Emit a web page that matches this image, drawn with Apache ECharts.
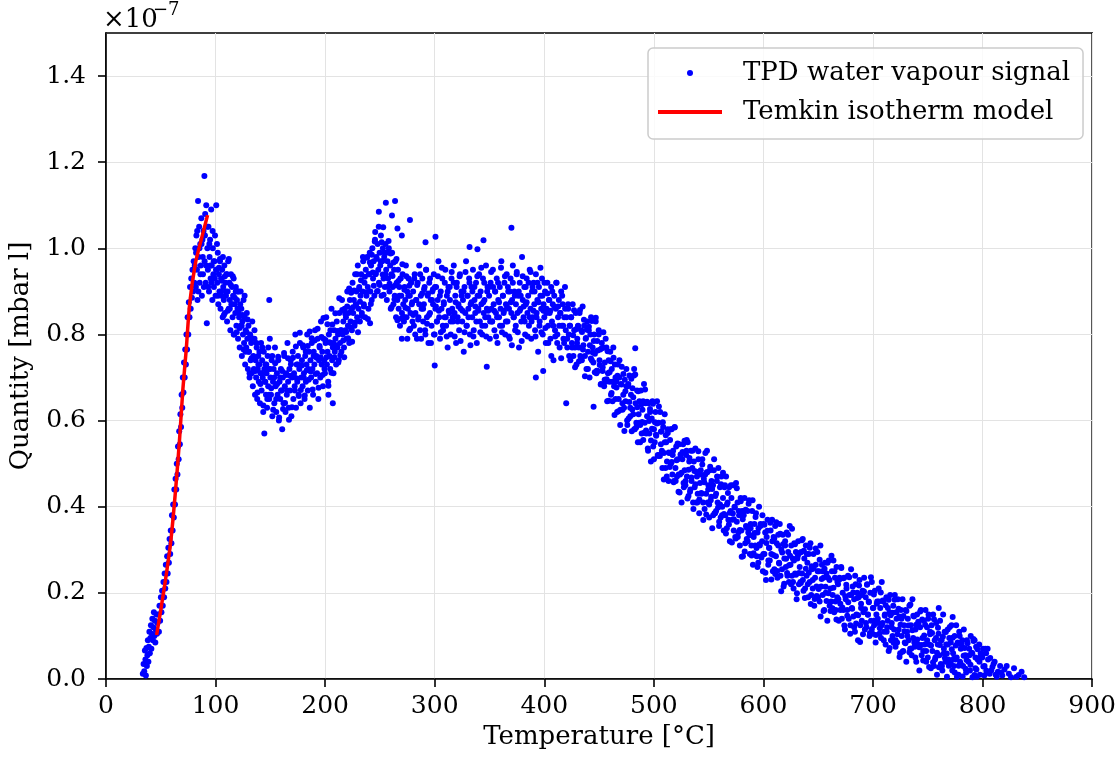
<!DOCTYPE html>
<html>
<head>
<meta charset="utf-8">
<script src="https://cdn.jsdelivr.net/npm/echarts@6/dist/echarts.min.js"></script>
<style>
html,body{margin:0;padding:0;background:#fff;}
#chart{width:1119px;height:765px;}
</style>
</head>
<body>
<div id="chart"></div>
<script>
// Values of Quantity are in units of 1e-7 mbar l (axis offset text "×10^-7")
var xTicks = [0,100,200,300,400,500,600,700,800,900];
var yTicks = [0,0.2,0.4,0.6,0.8,1.0,1.2,1.4];

var riseData = [[33.6,0.012],[34.3,0.035],[34.9,0.018],[35.5,0.066],[36.0,0.045],[36.4,0.008],[36.9,0.072],[37.3,0.03],[37.8,0.055],[38.2,0.09],[38.7,0.04],[39.1,0.075],[39.6,0.11],[40.0,0.06],[40.5,0.095],[41.0,0.125],[41.4,0.07],[41.9,0.105],[42.3,0.14],[42.8,0.09],[43.2,0.12],[43.7,0.155],[44.1,0.1],[44.6,0.135],[45.0,0.085],[45.5,0.115],[46.0,0.15],[46.5,0.105],[47.0,0.13],
[47.5,0.15],[48.3,0.11],[48.8,0.17],[49.4,0.135],[50.1,0.19],[50.6,0.155],[51.2,0.205],[51.8,0.17],[52.4,0.225],[53.0,0.19],[53.5,0.245],[54.1,0.21],[54.6,0.265],[55.2,0.225],[55.8,0.285],[56.3,0.245],[56.9,0.305],[57.4,0.27],[58.0,0.325],[58.6,0.29],[59.1,0.345],[59.7,0.315],[60.2,0.38],[60.8,0.345],[61.3,0.405],[61.9,0.375],[62.4,0.44],[63.0,0.405],[63.5,0.465],[64.1,0.44],[64.6,0.5],[65.2,0.475],[65.7,0.54],[66.3,0.51],[66.8,0.575],[67.4,0.545],[67.9,0.615],[68.5,0.585],[69.0,0.66],[69.6,0.63],[70.1,0.7],[70.7,0.665],[71.2,0.735],[71.8,0.7],[72.3,0.765],[72.9,0.73],[73.4,0.8],[74.0,0.765],[74.5,0.84],[75.1,0.8],[75.6,0.875],[76.2,0.84],[76.7,0.91],[77.3,0.86],[77.8,0.93],[78.4,0.885],[78.9,0.95],[79.5,0.9],[80.0,0.97],[80.6,0.92]];

var peakData = [[81,0.96],[81.5,1.0],[82,0.91],[82.2,0.99],[82.5,1.03],[83,0.95],[83.2,1.04],[83.5,0.88],[84,1.11],[84.3,0.9],[84.5,0.98],[85,1.05],[85.3,1.0],[85.5,0.92],[86,1.01],[86.2,0.94],[86.5,0.96],[87,1.07],[87.2,1.01],[87.5,0.89],[88,1.02],[88.3,0.98],[88.5,0.94],[89,1.04],[89.3,0.91],[89.8,1.168],[90,0.97],[90.3,1.03],[90.5,1.08],[91,0.92],[91.3,0.96],[91.5,1.1],[92,0.826],[92.3,1.05],[92.5,1.0],[93,0.95],[93.3,0.91],[93.5,1.05],[94,0.9],[94.3,1.01],[94.5,0.98],[95,1.02],[95.2,0.96],[95.5,0.93],[96,1.09],[96.3,0.92],[96.5,0.96],[97,0.88],[97.3,1.04],[97.5,1.0],[98,0.94],[98.3,0.97],[98.5,0.91],[99,0.97],[99.3,0.93],[99.5,1.03],[100,0.89],[100.6,1.1],[101,0.95],[101.5,0.92],[102,0.99],[102.5,0.87],[103,0.94],[103.5,0.9],[104,0.97],[104.5,0.86],[105,0.93],[105.5,0.89]];

var declineData = [[106,0.95],[106.5,0.84],[107,0.91],[107.5,0.88],[108,0.96],[108.5,0.85],[109,0.92],[109.5,0.89],[110,0.94],[110.5,0.83],[111,0.9],[111.5,0.97],[112,0.86],[112.5,0.92],[113,0.88],[113.5,0.81],[114,0.94],[114.5,0.87],[115,0.91],[115.5,0.84],[116,0.89],[116.5,0.93],[117,0.8],[117.5,0.87],[118,0.85],[118.5,0.91],[119,0.82],[119.5,0.88],[120,0.86],[120.5,0.79],[121,0.9],[121.5,0.84],[122,0.77],[122.5,0.87],[123,0.82],[123.5,0.86],[124,0.75],[124.5,0.83],[125,0.8],[125.5,0.88],[126,0.78],[126.5,0.84],[127,0.73],[127.5,0.81],[128,0.77],[128.5,0.85],[129,0.79],[129.5,0.72],[130,0.82],[130.5,0.76],[131,0.7],[131.5,0.8],[132,0.74],[132.5,0.78],[133,0.71],[133.5,0.83],[134,0.68],[134.5,0.75],[135,0.72],[135.5,0.79],[136,0.66],[136.5,0.74],[137,0.7],[137.5,0.77],[138,0.65],[138.5,0.72],[139,0.75],[139.5,0.69],[140,0.73],[140.5,0.64],[141,0.71],[141.5,0.78],[142,0.67],[142.5,0.74],[143,0.7],[143.5,0.62],[144,0.76],[144.5,0.57],[145,0.69],[145.5,0.73],[146,0.66],[146.5,0.71],[147,0.63],[147.5,0.75],[148,0.68],[148.5,0.72],[149,0.65],[149,0.88],[149.5,0.79],[150,0.7]];

var declineFill = [[100.4,0.95],[101.3,1.01],[102.2,0.89],[103.1,0.955],[104.0,0.975],[104.9,0.9],[105.8,0.925],[106.7,0.98],[107.6,0.845],[108.5,0.935],[109.4,0.9],[110.3,0.94],[111.2,0.855],[112.1,0.975],[113.0,0.86],[113.9,0.915],[114.8,0.87],[115.7,0.935],[116.6,0.8],[117.5,0.885],[118.4,0.9],[119.3,0.805],[120.2,0.9],[121.1,0.85],[122.0,0.815],[122.9,0.9],[123.8,0.82],[124.7,0.845],[125.6,0.765],[126.5,0.89],[127.4,0.76],[128.3,0.805],[129.2,0.835],[130.1,0.76],[131.0,0.71],[131.9,0.795],[132.8,0.745],[133.7,0.79],[134.6,0.715],[135.5,0.81],[136.4,0.715],[137.3,0.78],[138.2,0.665],[139.1,0.73],[140.0,0.76],[140.9,0.685],[141.8,0.71],[142.7,0.77],[143.6,0.635],[144.5,0.72],[145.4,0.69],[146.3,0.73],[147.2,0.65],[148.1,0.77],[149.0,0.66],[149.9,0.72]];

var valleyData = [[150.6,0.66],[151.2,0.74],[151.8,0.61],[152.4,0.69],[153,0.72],[153.6,0.64],[154.2,0.77],[154.8,0.68],[155.4,0.62],[156,0.71],[156.6,0.66],[157.2,0.74],[157.8,0.6],[158.4,0.69],[159,0.65],[159.6,0.72],[160.2,0.67],[160.8,0.58],[161.4,0.7],[162,0.64],[162.6,0.75],[163.2,0.68],[163.8,0.62],[164.4,0.71],[165,0.66],[165.6,0.78],[166.2,0.69],[166.8,0.63],[167.4,0.72],[168,0.67],[168.6,0.74],[169.2,0.61],[169.8,0.7],[170.4,0.76],[171,0.65],[171.6,0.71],[172.2,0.68],[172.8,0.8],[173.4,0.63],[174,0.73],[174.6,0.69],[175.2,0.75],[175.8,0.66],[176.4,0.72],[177,0.78],[177.6,0.64],[178.2,0.7],[178.8,0.74],[179.4,0.68],[180,0.77],[180.6,0.71],[181.2,0.65],[181.8,0.75],[182.4,0.69],[183,0.73],[183.6,0.8],[184.2,0.67],[184.8,0.72],[185.4,0.76],[186,0.63],[186.6,0.74],[187.2,0.7],[187.8,0.78],[188.4,0.72],[189,0.66],[189.6,0.76],[190.2,0.73],[190.8,0.81],[191.4,0.69],[192,0.75],[192.6,0.71],[193.2,0.79],[193.8,0.65],[194.4,0.74],[195,0.77],[195.6,0.7],[196.2,0.83],[196.8,0.73],[197.4,0.76],[198,0.68],[198.6,0.79],[199.2,0.74],[199.8,0.71],[200.4,0.78],[201,0.84],[201.6,0.73],[202.2,0.76],[202.8,0.69],[203,0.66],[203.4,0.8],[204,0.75],[204.6,0.72],[205.2,0.78],[205.8,0.86],[206.4,0.74],[207,0.64],[207,0.77],[207.6,0.71],[208.2,0.81],[208.8,0.76],[209.4,0.79],[210,0.73],[210.6,0.83],[211.2,0.77],[211.8,0.8],[212.4,0.74],[213,0.85],[213.6,0.78],[214.2,0.81],[214.8,0.76],[215.4,0.88],[216,0.8],[216.6,0.83],[217.2,0.77],[217.8,0.86],[218.4,0.81],[219,0.84],[219.6,0.79],[220.2,0.9],[220.8,0.82],[221.4,0.85],[222,0.78],[222.6,0.88],[223.2,0.83],[223.8,0.86],[224.4,0.81],[225,0.92],[225.6,0.85],[226.2,0.88],[226.8,0.82],[227.4,0.94],[228,0.87],[228.6,0.9],[229.2,0.84],[229.8,0.96]];

var valleyFill = [[150.8,0.675],[151.7,0.75],[152.6,0.625],[153.5,0.7],[154.4,0.733],[155.3,0.65],[156.2,0.685],[157.1,0.748],[158.0,0.607],[158.9,0.7],[159.8,0.67],[160.7,0.715],[161.6,0.627],[162.5,0.757],[163.4,0.641],[164.3,0.706],[165.2,0.67],[166.1,0.745],[167.0,0.602],[167.9,0.704],[168.8,0.731],[169.7,0.631],[170.6,0.746],[171.5,0.703],[172.4,0.67],[173.3,0.772],[174.2,0.698],[175.1,0.73],[176.0,0.657],[176.9,0.804],[177.8,0.671],[178.7,0.728],[179.6,0.775],[180.5,0.7],[181.4,0.658],[182.3,0.76],[183.2,0.717],[184.1,0.773],[185.0,0.695],[185.9,0.807],[186.8,0.714],[187.7,0.791],[188.6,0.672],[189.5,0.75],[190.4,0.786],[191.3,0.708],[192.2,0.746],[193.1,0.813],[194.0,0.676],[194.9,0.773],[195.8,0.747],[196.7,0.794],[197.6,0.706],[198.5,0.838],[199.4,0.72],[200.3,0.787],[201.2,0.747],[202.1,0.824],[203.0,0.681],[203.9,0.782],[204.8,0.81],[205.7,0.711],[206.6,0.823],[207.5,0.78],[208.4,0.747],[209.3,0.849],[210.2,0.775],[211.1,0.808],[212.0,0.735],[212.9,0.884],[213.8,0.752],[214.7,0.81],[215.6,0.857],[216.5,0.786],[217.4,0.747],[218.3,0.848],[219.2,0.806],[220.1,0.865],[221.0,0.791],[221.9,0.907],[222.8,0.817],[223.7,0.897],[224.6,0.783],[225.5,0.863],[226.4,0.902],[227.3,0.828],[228.2,0.869],[229.1,0.94]];

var humpData = [[230.5,0.86],[231.1,0.91],[231.7,0.83],[232.3,0.89],[232.9,0.94],[233.5,0.85],[234.1,0.9],[234.7,0.97],[235.3,0.87],[235.9,0.92],[236.5,0.84],[237.1,0.95],[237.7,0.89],[238.3,0.98],[238.9,0.91],[239.5,0.86],[240.1,0.94],[240.7,0.99],[241,0.826],[241.3,0.9],[241.9,0.96],[242.5,0.88],[243.1,1.0],[243.7,0.93],[244.3,0.97],[244.9,0.89],[245.5,1.02],[245.7,1.038],[246.1,0.94],[246.7,0.98],[247.3,0.9],[247.9,1.01],[248.5,0.95],[249,1.085],[249.1,0.92],[249.7,0.99],[250.3,0.96],[250.9,1.03],[251.5,0.89],[252.1,0.97],[252.7,1.0],[253,1.049],[253.3,0.93],[253.9,0.98],[254.5,0.91],[255.1,1.01],[255.4,1.106],[255.7,0.95],[256.3,0.88],[256.9,0.97],[257.5,0.93],[258.1,1.0],[258.7,0.9],[259.3,0.96],[259.9,0.86],[260.5,0.94],[261,1.076],[261.1,0.99],[261.7,0.91],[262.3,0.87],[262.9,0.95],[263.5,0.89],[263.8,1.11],[264.1,0.97],[264.7,0.84],[265.3,0.92],[265.9,0.88],[266,1.046],[266.5,0.95],[267.1,0.86],[267.7,0.91],[268.3,0.82],[268.9,0.93],[269.5,0.89],[270,0.79],[270,1.03],[270.1,0.85],[270.7,0.94],[271.3,0.87],[271.9,0.83],[272.5,0.91],[273.1,0.88],[273.7,0.96],[274.3,0.84],[274.9,0.9],[275.5,0.86],[276.1,0.93],[276.7,0.81],[277.3,0.89],[277.4,1.066],[277.9,0.85],[278.5,0.92],[279.1,0.87],[279.7,0.83]];

var humpFill = [[230.0,0.805],[230.9,0.905],[231.8,0.876],[232.7,0.926],[233.6,0.843],[234.5,0.98],[235.4,0.865],[236.3,0.934],[237.2,0.898],[238.1,0.978],[239.0,0.836],[239.9,0.94],[240.8,0.967],[241.7,0.871],[242.6,0.985],[243.5,0.944],[244.4,0.913],[245.3,1.016],[246.2,0.942],[247.1,0.976],[248.0,0.901],[248.9,1.05],[249.8,0.915],[250.7,0.97],[251.6,1.014],[252.5,0.939],[253.4,0.892],[254.3,0.99],[255.2,0.94],[256.1,0.99],[257.0,0.911],[257.9,1.017],[258.8,0.918],[259.7,0.988],[260.6,0.863],[261.5,0.936],[262.4,0.967],[263.3,0.882],[264.2,0.914],[265.1,0.975],[266.0,0.833],[266.9,0.924],[267.8,0.89],[268.7,0.93],[269.6,0.837],[270.5,0.963],[271.4,0.841],[272.3,0.904],[273.2,0.862],[274.1,0.935],[275.0,0.79],[275.9,0.89],[276.8,0.913],[277.7,0.813],[278.6,0.921],[279.5,0.875]];

var plateauData = [[280.3,0.9],[281.0,0.82],[281.7,0.94],[282.4,0.85],[283.1,0.88],[283.8,0.79],[284.5,0.92],[285.2,0.84],[285.9,0.96],[286.6,0.81],[287.3,0.89],[288.0,0.86],[288.7,0.93],[289.4,0.83],[290.1,0.87],[290.8,0.91],[291.5,0.8],[291.6,1.014],[292.2,0.95],[292.9,0.84],[293.6,0.89],[294.3,0.78],[295.0,0.92],[295.7,0.85],[296.4,0.88],[297.1,0.82],[297.8,0.9],[298.5,0.87],[299.2,0.94],[299.9,0.8],[300.0,0.728],[300.6,0.86],[300.7,1.027],[301.3,0.91],[302.0,0.83],[302.7,0.88],[303.4,0.97],[304.1,0.84],[304.8,0.79],[305.5,0.9],[306.2,0.86],[306.9,0.93],[307.6,0.81],[308.3,0.87],[309.0,0.84],[309.7,0.95],[310.4,0.82],[311.1,0.89],[311.8,0.77],[312.5,0.91],[313.2,0.85],[313.9,0.88],[314.6,0.8],[315.3,0.93],[316.0,0.86],[316.7,0.83],[317.4,0.96],[318.1,0.85],[318.8,0.89],[319.5,0.78],[320.2,0.92],[320.9,0.84],[321.6,0.87],[322.3,0.81],[323.0,0.94],[323.7,0.86],[324.4,0.9],[325.1,0.83],[325.8,0.88],[326.5,0.76],[327.2,0.91],[327.9,0.85],[328.6,0.97],[329.3,0.82],[330.0,0.89],[330.7,0.86],[331.4,0.93],[331.8,1.003],[332.1,0.8],[332.8,0.87],[333.5,0.91],[334.2,0.84],[334.9,0.95],[335.6,0.81],[336.3,0.88],[337.0,0.85],[337.7,0.92],[338.4,0.78],[339.0,0.998],[339.1,0.89],[339.8,0.86],[340.5,0.94],[341.2,0.83],[341.9,0.9],[342.6,0.87],[343.3,0.8],[344.0,0.93],[344.5,1.019],[344.7,0.85],[345.4,0.88],[346.1,0.82],[346.8,0.96],[347.5,0.725],[347.6,0.86],[348.2,0.91],[348.9,0.84],[349.6,0.89],[350.3,0.79],[351.0,0.92],[351.7,0.86],[352.4,0.83],[353.1,0.95],[353.8,0.87],[354.5,0.81],[355.2,0.9],[355.9,0.85],[356.6,0.93],[357.3,0.78],[358.0,0.88],[358.7,0.84],[359.4,0.91],[360.1,0.86],[360.8,0.97],[361.5,0.82],[362.2,0.89],[362.9,0.85],[363.6,0.92],[364.3,0.8],[365.0,0.87],[365.7,0.94],[366.4,0.83],[367.1,0.9],[367.8,0.86],[368.5,0.79],[369.2,0.93],[369.9,0.85],[370.0,1.048],[370.6,0.88],[371.3,0.96],[372.0,0.84],[372.7,0.9],[373.4,0.81],[374.1,0.87],[374.8,0.94],[375.5,0.85],[376.2,0.89],[376.9,0.77],[377.6,0.92],[378.3,0.86],[379.0,0.83],[379.7,0.98],[380.4,0.88],[381.1,0.84],[381.8,0.91],[382.5,0.8],[383.2,0.87],[383.9,0.93],[384.6,0.85],[385.3,0.89],[386.0,0.82],[386.7,0.95],[387.4,0.86],[388.1,0.79],[388.8,0.9],[389.5,0.84],[390.2,0.92],[390.9,0.87],[391.6,0.81],[392.3,0.7],[392.3,0.94],[393.0,0.85],[393.7,0.88],[394.4,0.76],[395.1,0.91],[395.8,0.83],[396.5,0.89],[397.2,0.86],[397.9,0.93],[398.6,0.8],[399.0,0.715],[399.3,0.87],[400.0,0.84],[400.7,0.9],[401.4,0.78],[402.1,0.86],[402.8,0.92],[403.5,0.82],[404.2,0.88],[404.9,0.85],[405.6,0.79],[406.3,0.91],[407.0,0.83],[407.7,0.87],[408.4,0.74],[409.1,0.89],[409.8,0.81],[410.5,0.86],[411.2,0.92],[411.9,0.8],[412.6,0.84],[413.3,0.88],[414.0,0.77],[414.7,0.85],[415.4,0.9],[416.1,0.82],[416.8,0.87],[417.5,0.79],[418.2,0.84],[418.9,0.91],[419.6,0.81]];

var plateauFill = [[280.4,0.845],[281.3,0.93],[282.2,0.8],[283.1,0.88],[284.0,0.915],[284.9,0.835],[285.8,0.87],[286.7,0.94],[287.6,0.79],[288.5,0.895],[289.4,0.86],[290.3,0.905],[291.2,0.81],[292.1,0.95],[293.0,0.825],[293.9,0.895],[294.8,0.845],[295.7,0.93],[296.6,0.78],[297.5,0.88],[298.4,0.905],[299.3,0.8],[300.2,0.91],[301.1,0.865],[302.0,0.83],[302.9,0.935],[303.8,0.855],[304.7,0.89],[305.6,0.805],[306.5,0.955],[307.4,0.82],[308.3,0.875],[309.2,0.92],[310.1,0.84],[311.0,0.795],[311.9,0.9],[312.8,0.855],[313.7,0.91],[314.6,0.83],[315.5,0.945],[316.4,0.84],[317.3,0.92],[318.2,0.795],[319.1,0.875],[320.0,0.91],[320.9,0.83],[321.8,0.865],[322.7,0.935],[323.6,0.785],[324.5,0.89],[325.4,0.855],[326.3,0.9],[327.2,0.805],[328.1,0.945],[329.0,0.82],[329.9,0.89],[330.8,0.84],[331.7,0.92],[332.6,0.775],[333.5,0.875],[334.4,0.9],[335.3,0.795],[336.2,0.91],[337.1,0.865],[338.0,0.83],[338.9,0.935],[339.8,0.855],[340.7,0.89],[341.6,0.805],[342.5,0.955],[343.4,0.82],[344.3,0.875],[345.2,0.92],[346.1,0.84],[347.0,0.795],[347.9,0.9],[348.8,0.855],[349.7,0.91],[350.6,0.83],[351.5,0.945],[352.4,0.83],[353.3,0.91],[354.2,0.855],[355.1,0.9],[356.0,0.795],[356.9,0.84],[357.8,0.92],[358.7,0.875],[359.6,0.82],[360.5,0.955],[361.4,0.805],[362.3,0.89],[363.2,0.855],[364.1,0.935],[365.0,0.83],[365.9,0.865],[366.8,0.91],[367.7,0.795],[368.6,0.9],[369.5,0.875],[370.4,0.775],[371.3,0.92],[372.2,0.84],[373.1,0.89],[374.0,0.82],[374.9,0.945],[375.8,0.805],[376.7,0.9],[377.6,0.855],[378.5,0.89],[379.4,0.785],[380.3,0.935],[381.2,0.865],[382.1,0.83],[383.0,0.91],[383.9,0.875],[384.8,0.795],[385.7,0.92],[386.6,0.84],[387.5,0.945],[388.4,0.83],[389.3,0.91],[390.2,0.855],[391.1,0.9],[392.0,0.795],[392.9,0.84],[393.8,0.92],[394.7,0.875],[395.6,0.82],[396.5,0.955],[397.4,0.805],[398.3,0.89],[399.2,0.855],[400.1,0.92],[401.0,0.815],[401.9,0.85],[402.8,0.895],[403.7,0.78],[404.6,0.88],[405.5,0.855],[406.4,0.75],[407.3,0.9],[408.2,0.82],[409.1,0.865],[410.0,0.795],[410.9,0.92],[411.8,0.78],[412.7,0.865],[413.6,0.82],[414.5,0.85],[415.4,0.745],[416.3,0.89],[417.2,0.82],[418.1,0.78],[419.0,0.86]];

var fallData = [[420.0,0.64],[420.3,0.84],[421.0,0.77],[421.7,0.87],[422.4,0.8],[423.1,0.82],[423.8,0.74],[424.5,0.84],[425.2,0.78],[425.9,0.87],[426.6,0.75],[427.3,0.81],[428.0,0.77],[428.7,0.85],[429.4,0.73],[430.1,0.79],[430.8,0.82],[431.5,0.77],[432.2,0.85],[432.9,0.75],[433.6,0.81],[434.3,0.74],[435.0,0.865],[435.7,0.775],[436.4,0.82],[437.1,0.75],[437.8,0.79],[438.5,0.72],[439.2,0.83],[439.9,0.76],[440.6,0.81],[441.3,0.7],[442.0,0.8],[442.7,0.84],[443.4,0.74],[444.1,0.77],[444.8,0.735],[445.0,0.632],[445.5,0.8],[446.2,0.755],[446.9,0.83],[447.6,0.71],[448.3,0.785],[449.0,0.715],[449.7,0.81],[450.4,0.74],[451.1,0.765],[451.8,0.685],[452.5,0.78],[453.2,0.715],[453.9,0.805],[454.6,0.68],[455.3,0.735],[456.0,0.69],[456.7,0.77],[457.4,0.645],[458.1,0.71],[458.8,0.74],[459.5,0.69],[460.2,0.76],[460.9,0.66],[461.6,0.72],[462.3,0.645],[463.0,0.77],[463.7,0.68],[464.4,0.73],[465.1,0.65],[465.8,0.69],[466.5,0.62],[467.2,0.73],[467.9,0.65],[468.6,0.7],[469.3,0.59],[470.0,0.685],[470.7,0.725],[471.4,0.625],[472.1,0.66],[472.8,0.63],[473.5,0.695],[474.2,0.645],[474.9,0.72],[475.6,0.6],[476.3,0.68],[477.0,0.605],[477.7,0.705],[478.4,0.63],[479.1,0.66],[479.8,0.575],[480.5,0.675],[481.2,0.615],[481.9,0.705],[482.0,0.72],[483.0,0.768],[482.6,0.58],[483.3,0.64],[484.0,0.595],[484.7,0.67],[485.4,0.55],[486.1,0.615],[486.8,0.645],[487.5,0.59],[488.2,0.67],[488.9,0.57],[489.6,0.625],[490.3,0.555],[491.0,0.685],[491.7,0.595],[492.4,0.64],[493.1,0.57],[493.8,0.61],[494.5,0.535],[495.2,0.64],[495.9,0.57],[496.6,0.62],[497.3,0.505],[498.0,0.605],[498.7,0.645],[499.4,0.54],[500.1,0.58],[500.8,0.55],[501.5,0.62],[502.2,0.565],[502.9,0.645],[503.6,0.52],[504.3,0.595],[505.0,0.52],[505.7,0.62],[506.4,0.545],[507.1,0.575],[507.8,0.49],[508.5,0.585],[509.2,0.525],[509.9,0.615],[510.6,0.49],[511.3,0.55],[512.0,0.505],[512.7,0.58],[513.4,0.46],[514.1,0.525],[514.8,0.555],[515.5,0.5],[516.2,0.58],[516.9,0.475],[517.6,0.53],[518.3,0.46],[519.0,0.585],[519.7,0.49],[520.4,0.54],[521.1,0.47],[521.8,0.51],[522.5,0.435],[523.2,0.545],[523.9,0.475],[524.6,0.52],[525.3,0.41],[526.0,0.51],[526.7,0.545],[527.4,0.445],[528.1,0.485],[528.8,0.45],[529.5,0.52],[530.0,0.555],[530.2,0.47],[530.9,0.55],[531.6,0.425],[532.3,0.505],[533.0,0.435],[533.7,0.53],[534.4,0.46],[535.1,0.49],[535.8,0.41],[536.5,0.505],[537.2,0.445],[537.9,0.535],[538.6,0.41],[539.3,0.47],[540.0,0.43],[540.7,0.51],[541.4,0.385],[542.1,0.455],[542.8,0.485],[543.5,0.43],[544.2,0.51],[544.9,0.41],[545.6,0.465],[546.3,0.395],[547.0,0.525],[547.7,0.43],[548.4,0.48],[548.5,0.53],[549.1,0.41],[549.8,0.45],[550.5,0.375],[551.2,0.485],[551.9,0.415],[552.6,0.46],[553.3,0.35],[554.0,0.45],[554.7,0.485],[555.4,0.385],[556.1,0.425],[556.8,0.39],[557.5,0.46],[558.2,0.41],[558.9,0.49],[559.6,0.365]];

var fallFill = [[420.9,0.79],[421.8,0.86],[422.7,0.75],[423.6,0.82],[424.5,0.84],[425.4,0.77],[426.3,0.798],[427.2,0.856],[428.1,0.724],[429.0,0.812],[429.9,0.78],[430.8,0.819],[431.7,0.738],[432.6,0.857],[433.5,0.746],[434.4,0.806],[435.3,0.765],[436.2,0.834],[437.1,0.703],[438.0,0.792],[438.9,0.811],[439.8,0.72],[440.7,0.818],[441.6,0.775],[442.5,0.744],[443.4,0.831],[444.3,0.758],[445.2,0.785],[446.1,0.712],[447.0,0.839],[447.9,0.716],[448.8,0.763],[449.7,0.8],[450.6,0.729],[451.5,0.684],[452.4,0.768],[453.3,0.724],[454.2,0.769],[455.1,0.695],[456.0,0.79],[456.9,0.696],[457.8,0.761],[458.7,0.646],[459.6,0.712],[460.5,0.738],[461.4,0.664],[462.3,0.69],[463.2,0.746],[464.1,0.613],[465.0,0.7],[465.9,0.677],[466.8,0.704],[467.7,0.622],[468.6,0.74],[469.5,0.625],[470.4,0.684],[471.3,0.64],[472.2,0.708],[473.1,0.576],[474.0,0.668],[474.9,0.68],[475.8,0.59],[476.7,0.685],[477.6,0.643],[478.5,0.61],[479.4,0.697],[480.3,0.626],[481.2,0.654],[482.1,0.58],[483.0,0.707],[483.9,0.584],[484.8,0.631],[485.7,0.668],[486.6,0.595],[487.5,0.55],[488.4,0.637],[489.3,0.597],[490.2,0.645],[491.1,0.572],[492.0,0.672],[492.9,0.577],[493.8,0.644],[494.7,0.53],[495.6,0.599],[496.5,0.627],[497.4,0.554],[498.3,0.581],[499.2,0.639],[500.1,0.51],[501.0,0.596],[501.9,0.567],[502.8,0.593],[503.7,0.518],[504.6,0.633],[505.5,0.518],[506.4,0.574],[507.3,0.53],[508.2,0.596],[509.1,0.463],[510.0,0.55],[510.9,0.566],[511.8,0.47],[512.7,0.571],[513.6,0.526],[514.5,0.492],[515.4,0.58],[516.3,0.504],[517.2,0.52],[518.1,0.457],[519.0,0.584],[519.9,0.46],[520.8,0.508],[521.7,0.547],[522.6,0.475],[523.5,0.433],[524.4,0.521],[525.3,0.479],[526.2,0.527],[527.1,0.455],[528.0,0.553],[528.9,0.46],[529.8,0.53],[530.7,0.419],[531.6,0.486],[532.5,0.513],[533.4,0.44],[534.3,0.468],[535.2,0.53],[536.1,0.395],[537.0,0.483],[537.9,0.452],[538.8,0.481],[539.7,0.41],[540.6,0.529],[541.5,0.417],[542.4,0.475],[543.3,0.432],[544.2,0.498],[545.1,0.369],[546.0,0.457],[546.9,0.475],[547.8,0.382],[548.7,0.48],[549.6,0.44],[550.5,0.405],[551.4,0.493],[552.3,0.423],[553.2,0.441],[554.1,0.38],[555.0,0.51],[555.9,0.385],[556.8,0.43],[557.7,0.47],[558.6,0.398],[559.5,0.355]];

var tailData = [[560.3,0.445],[561.0,0.375],[561.7,0.47],[562.4,0.4],[563.1,0.42],[563.8,0.345],[564.5,0.445],[565.2,0.38],[565.9,0.47],[566.6,0.35],[567.3,0.41],[568.0,0.37],[568.7,0.445],[569.4,0.32],[570.1,0.39],[570.8,0.42],[571.5,0.37],[572.2,0.45],[572.9,0.345],[573.6,0.4],[574.3,0.33],[575.0,0.455],[575.7,0.365],[576.4,0.41],[577.1,0.34],[577.8,0.38],[578.5,0.31],[579.2,0.42],[579.9,0.345],[580.6,0.39],[581.3,0.285],[582.0,0.38],[582.7,0.42],[583.4,0.315],[584.1,0.355],[584.8,0.325],[585.5,0.39],[586.2,0.34],[586.9,0.415],[587.6,0.29],[588.3,0.35],[589.0,0.31],[589.7,0.39],[590.4,0.265],[591.1,0.33],[591.8,0.36],[592.5,0.31],[593.2,0.385],[593.9,0.285],[594.6,0.34],[595.3,0.27],[596.0,0.4],[596.7,0.31],[597.4,0.36],[598.1,0.285],[598.8,0.32],[599.5,0.25],[600.2,0.36],[600.9,0.29],[601.6,0.34],[602.3,0.23],[603.0,0.33],[603.7,0.37],[604.4,0.265],[605.1,0.305],[605.8,0.275],[606.5,0.345],[607.2,0.29],[607.9,0.37],[608.6,0.25],[609.3,0.33],[610.0,0.255],[610.7,0.355],[611.4,0.285],[612.1,0.315],[612.8,0.235],[613.5,0.335],[614.2,0.27],[614.9,0.36],[615.6,0.24],[616.3,0.3],[617.0,0.255],[617.7,0.335],[618.4,0.215],[619.1,0.28],[619.8,0.31],[620.5,0.26],[621.2,0.34],[621.9,0.24],[622.6,0.295],[623.3,0.225],[624.0,0.355],[624.7,0.265],[625.4,0.31],[626.1,0.24],[626.8,0.28],[627.5,0.21],[628.2,0.315],[628.9,0.245],[629.6,0.295],[630.3,0.185],[631.0,0.28],[631.7,0.32],[632.4,0.22],[633.1,0.26],[633.8,0.225],[634.5,0.295],[635.2,0.245],[635.9,0.325],[636.6,0.205],[637.3,0.28],[638.0,0.21],[638.7,0.31],[639.4,0.24],[640.1,0.27],[640.8,0.19],[641.5,0.29],[642.2,0.225],[642.9,0.315],[643.6,0.195],[644.3,0.255],[645.0,0.21],[645.7,0.29],[646.4,0.17],[647.1,0.235],[647.8,0.265],[648.5,0.215],[649.2,0.295],[649.9,0.19],[650.6,0.25],[651.3,0.18],[652.0,0.31],[652.7,0.215],[653.4,0.265],[654.1,0.195],[654.8,0.235],[655.5,0.16],[656.2,0.27],[656.9,0.2],[657.6,0.245],[658.3,0.135],[659.0,0.235],[659.7,0.275],[660.4,0.17],[661.1,0.21],[661.8,0.18],[662.5,0.25],[663.2,0.195],[663.9,0.275],[664.6,0.155],[665.3,0.235],[666.0,0.16],[666.7,0.26],[667.4,0.19],[668.1,0.22],[668.8,0.135],[669.5,0.235],[670.2,0.175],[670.9,0.26],[671.6,0.14],[672.3,0.2],[673.0,0.16],[673.7,0.235],[674.4,0.115],[675.1,0.185],[675.8,0.21],[676.5,0.16],[677.2,0.24],[677.9,0.14],[678.6,0.195],[679.3,0.125],[680.0,0.255],[680.7,0.165],[681.4,0.215],[682.1,0.145],[682.8,0.185],[683.5,0.11],[684.2,0.22],[684.9,0.15],[685.6,0.2],[686.3,0.09],[687.0,0.19],[687.7,0.23],[688.4,0.125],[689.1,0.165],[689.8,0.135],[690.5,0.205],[691.2,0.155],[691.9,0.235],[692.6,0.115],[693.3,0.19],[694.0,0.12],[694.7,0.22],[695.4,0.15],[696.1,0.18],[696.8,0.1],[697.5,0.2],[698.2,0.135],[698.9,0.225],[699.6,0.105],[700.3,0.165],[701.0,0.125],[701.7,0.205],[702.4,0.085],[703.1,0.15],[703.8,0.18],[704.5,0.13],[705.2,0.21],[705.9,0.105],[706.6,0.165],[707.3,0.095],[708.0,0.225],[708.7,0.13],[709.4,0.18],[710.1,0.11],[710.8,0.15],[711.5,0.08],[712.2,0.19],[712.9,0.12],[713.6,0.165],[714.3,0.065],[715.0,0.155],[715.7,0.195],[716.4,0.09],[717.1,0.13],[717.8,0.1],[718.5,0.17],[719.2,0.115],[719.9,0.195],[720.6,0.075],[721.3,0.155],[722.0,0.085],[722.7,0.185],[723.4,0.115],[724.1,0.145],[724.8,0.06],[725.5,0.16],[726.2,0.1],[726.9,0.185],[727.6,0.065],[728.3,0.125],[729.0,0.085],[729.7,0.16],[730.4,0.04],[731.1,0.11],[731.8,0.14],[732.5,0.09],[733.2,0.17],[733.9,0.07],[734.6,0.125],[735.3,0.055],[736.0,0.185],[736.7,0.095],[737.4,0.145],[738.1,0.075],[738.8,0.115],[739.5,0.04],[740.2,0.15],[740.9,0.08],[741.6,0.13],[742.3,0.02],[743.0,0.12],[743.7,0.16],[744.4,0.055],[745.1,0.095],[745.8,0.065],[746.5,0.135],[747.2,0.08],[747.9,0.16],[748.6,0.04],[749.3,0.12],[750.0,0.05],[750.7,0.15],[751.4,0.08],[752.1,0.11],[752.8,0.025],[753.5,0.125],[754.2,0.065],[754.9,0.15],[755.6,0.03],[756.3,0.09],[757.0,0.05],[757.7,0.13],[758.4,0.01],[759.1,0.08],[759.8,0.105],[760.0,0.165],[760.5,0.055],[761.2,0.135],[761.9,0.035],[762.6,0.09],[763.3,0.02],[764.0,0.15],[764.7,0.06],[765.4,0.11],[766.1,0.04],[766.8,0.08],[767.5,0.005],[768.2,0.115],[768.9,0.045],[769.6,0.095],[771.0,0.085],[771.7,0.125],[772.4,0.02],[772.7,0.144],[773.1,0.06],[773.8,0.03],[774.5,0.1],[775.2,0.045],[775.9,0.125],[776.6,0.005],[777.3,0.085],[778.0,0.01],[778.7,0.11],[779.4,0.04],[780.1,0.07],[781.5,0.09],[782.2,0.03],[782.9,0.115],[784.3,0.055],[785.0,0.015],[785.7,0.09],[787.1,0.04],[787.8,0.07],[788.5,0.02],[789.2,0.1],[790.6,0.06],[791.6,0.093],[792.7,0.09],[793.4,0.025],[794.1,0.075],[794.8,0.005],[795.5,0.045],[796.9,0.08],[797.6,0.01],[798.3,0.06],[799.7,0.05],[800.4,0.07],[801.8,0.03],[803.2,0.06],[803.9,0.015],[804.6,0.07],[807,0.049],[808,0.02],[810,0.035],[811,0.04],[812,0.01],[814,0.017],[816,0.03],[818,0.008],[820,0.022],[824,0.012],[828.7,0.025],[831,0.005],[835.6,0.017],[838,0.004]];

var tailFill = [[560.4,0.405],[561.3,0.452],[562.2,0.38],[563.1,0.479],[564.0,0.383],[564.9,0.45],[565.8,0.338],[566.7,0.405],[567.6,0.432],[568.5,0.359],[569.4,0.386],[570.3,0.45],[571.2,0.317],[572.1,0.384],[573.0,0.371],[573.9,0.398],[574.8,0.326],[575.7,0.443],[576.6,0.33],[577.5,0.39],[578.4,0.346],[579.3,0.413],[580.2,0.284],[581.1,0.371],[582.0,0.39],[582.9,0.296],[583.8,0.393],[584.7,0.351],[585.6,0.32],[586.5,0.407],[587.4,0.334],[588.3,0.36],[589.2,0.287],[590.1,0.415],[591.0,0.292],[591.9,0.339],[592.8,0.376],[593.7,0.304],[594.6,0.26],[595.5,0.35],[596.4,0.313],[597.3,0.355],[598.2,0.282],[599.1,0.38],[600.0,0.29],[600.9,0.358],[601.8,0.247],[602.7,0.316],[603.6,0.344],[604.5,0.275],[605.4,0.304],[606.3,0.363],[607.2,0.231],[608.1,0.32],[609.0,0.288],[609.9,0.326],[610.8,0.244],[611.7,0.364],[612.6,0.251],[613.5,0.31],[614.4,0.268],[615.3,0.337],[616.2,0.204],[617.1,0.294],[618.0,0.313],[618.9,0.221],[619.8,0.32],[620.7,0.279],[621.6,0.246],[622.5,0.335],[623.4,0.264],[624.3,0.286],[625.2,0.22],[626.1,0.349],[627.0,0.225],[627.9,0.275],[628.8,0.313],[629.7,0.242],[630.6,0.199],[631.5,0.287],[632.4,0.246],[633.3,0.293],[634.2,0.223],[635.1,0.322],[636.0,0.23],[636.9,0.298],[637.8,0.188],[638.7,0.256],[639.6,0.29],[640.5,0.22],[641.4,0.247],[642.3,0.305],[643.2,0.174],[644.1,0.262],[645.0,0.23],[645.9,0.258],[646.8,0.186],[647.7,0.303],[648.6,0.193],[649.5,0.25],[650.4,0.209],[651.3,0.277],[652.2,0.145],[653.1,0.232],[654.0,0.25],[654.9,0.158],[655.8,0.256],[656.7,0.214],[657.6,0.181],[658.5,0.27],[659.4,0.199],[660.3,0.23],[661.2,0.158],[662.1,0.286],[663.0,0.164],[663.9,0.212],[664.8,0.25],[665.7,0.18],[666.6,0.138],[667.5,0.226],[668.4,0.185],[669.3,0.231],[670.2,0.16],[671.1,0.258],[672.0,0.166],[672.9,0.234],[673.8,0.124],[674.7,0.192],[675.6,0.219],[676.5,0.147],[677.4,0.178],[678.3,0.236],[679.2,0.105],[680.1,0.195],[681.0,0.163],[681.9,0.201],[682.8,0.12],[683.7,0.24],[684.6,0.129],[685.5,0.188],[686.4,0.148],[687.3,0.217],[688.2,0.086],[689.1,0.175],[690.0,0.195],[690.9,0.104],[691.8,0.203],[692.7,0.162],[693.6,0.13],[694.5,0.219],[695.4,0.149],[696.3,0.178],[697.2,0.107],[698.1,0.236],[699.0,0.116],[699.9,0.165],[700.8,0.196],[701.7,0.136],[702.6,0.102],[703.5,0.175],[704.4,0.14],[705.3,0.18],[706.2,0.118],[707.1,0.201],[708.0,0.125],[708.9,0.182],[709.8,0.09],[710.7,0.147],[711.6,0.171],[712.5,0.11],[713.4,0.135],[714.3,0.184],[715.2,0.072],[716.1,0.148],[717.0,0.12],[717.9,0.154],[718.8,0.084],[719.7,0.184],[720.6,0.09],[721.5,0.14],[722.4,0.104],[723.3,0.163],[724.2,0.051],[725.1,0.126],[726.0,0.14],[726.9,0.063],[727.8,0.146],[728.7,0.111],[729.6,0.083],[730.5,0.158],[731.4,0.1],[732.3,0.124],[733.2,0.062],[734.1,0.173],[735.0,0.071],[735.9,0.113],[736.8,0.147],[737.7,0.085],[738.6,0.05],[739.5,0.126],[740.4,0.092],[741.3,0.133],[742.2,0.074],[743.1,0.157],[744.0,0.079],[744.9,0.138],[745.8,0.043],[746.7,0.101],[747.6,0.126],[748.5,0.065],[749.4,0.09],[750.3,0.14],[751.2,0.028],[752.1,0.104],[753.0,0.078],[753.9,0.107],[754.8,0.039],[755.7,0.139],[756.6,0.045],[757.5,0.095],[758.4,0.061],[759.3,0.119],[760.2,0.027],[761.1,0.079],[762.0,0.09],[762.9,0.03],[763.8,0.098],[764.7,0.07],[765.6,0.049],[766.5,0.109],[767.4,0.059],[768.3,0.08],[769.2,0.031],[770.1,0.121],[771.0,0.037],[771.9,0.069],[772.8,0.096],[773.7,0.047],[774.6,0.015],[775.5,0.078],[776.4,0.05],[777.3,0.082],[778.2,0.031],[779.1,0.1],[780.0,0.036],[780.9,0.082],[781.8,0.006],[782.7,0.054],[783.6,0.072],[784.5,0.024],[785.4,0.044],[786.3,0.083],[788.1,0.055],[789.0,0.033],[789.9,0.061],[790.8,0.004],[791.7,0.088],[792.6,0.009],[793.5,0.05],[794.4,0.022],[795.3,0.069],[797.1,0.04],[798.0,0.052],[799.8,0.058],[800.7,0.029],[801.6,0.008],[802.5,0.07],[803.4,0.02],[805,0.045],[806.5,0.012],[809,0.028],[813,0.005],[817,0.015],[822,0.03],[826,0.004],[833,0.009]];

var temkinT = [46.2, 52.9, 58.9, 63.5, 67.1, 70.1, 73.2, 76.4, 81.6, 86.8, 92.7];
var temkinQ = [0.102, 0.207, 0.315, 0.439, 0.555, 0.671, 0.764, 0.872, 0.965, 1.019, 1.077];

var FONT = 'DejaVu Serif';
var scatterData = [].concat(riseData, peakData, declineData, declineFill, valleyData, valleyFill, humpData, humpFill, plateauData, plateauFill, fallData, fallFill, tailData, tailFill);
var temkinData = temkinT.map(function (t, i) { return [t, temkinQ[i]]; });

var chart = echarts.init(document.getElementById('chart'), null, {renderer: 'canvas'});
var option = {
  animation: false,
  backgroundColor: '#ffffff',
  grid: {left: 105, right: 22, top: 33, bottom: 86, show: true, borderColor: '#000', borderWidth: 1.6, backgroundColor: 'transparent'},
  xAxis: {
    type: 'value', min: 0, max: 900, interval: 100,
    name: 'Temperature [°C]', nameLocation: 'middle', nameGap: 40,
    nameTextStyle: {fontFamily: FONT, fontSize: 26, color: '#000'},
    axisLine: {show: true, onZero: false, lineStyle: {color: '#000', width: 1.6}},
    axisTick: {show: true, inside: false, length: 8, lineStyle: {color: '#000', width: 1.6}, customValues: xTicks},
    axisLabel: {fontFamily: FONT, fontSize: 25, color: '#000', margin: 15, customValues: xTicks},
    splitLine: {show: true, lineStyle: {color: '#e3e3e3', width: 1}}
  },
  yAxis: {
    type: 'value', min: 0, max: 1.5, interval: 0.2,
    name: 'Quantity [mbar l]', nameLocation: 'middle', nameGap: 72, nameRotate: 90,
    nameTextStyle: {fontFamily: FONT, fontSize: 26, color: '#000'},
    axisLine: {show: true, onZero: false, lineStyle: {color: '#000', width: 1.6}},
    axisTick: {show: true, inside: false, length: 8, lineStyle: {color: '#000', width: 1.6}, customValues: yTicks},
    axisLabel: {fontFamily: FONT, fontSize: 25, color: '#000', margin: 20, customValues: yTicks,
      formatter: function (v) { return Number(v).toFixed(1); }},
    splitLine: {show: true, lineStyle: {color: '#e3e3e3', width: 1}}
  },
  legend: {
    orient: 'vertical', left: 648, top: 48,
    padding: [12, 13, 14, 10], itemGap: 13, itemWidth: 64, itemHeight: 6,
    borderColor: '#cccccc', borderWidth: 1.5, borderRadius: 5,
    backgroundColor: 'rgba(255,255,255,0.8)',
    textStyle: {fontFamily: FONT, fontSize: 26, color: '#000', lineHeight: 26, padding: [0, 0, 0, 16]},
    data: [
      {name: 'TPD water vapour signal', icon: 'circle'},
      {name: 'Temkin isotherm model', icon: 'path://M0,0M64,6M0,1H64V5H0Z'}
    ]
  },
  graphic: [
    {type: 'text', left: 103, top: 7, style: {text: '×10', font: '26px "DejaVu Serif"', fill: '#000'}},
    {type: 'text', left: 153, top: 1, style: {text: '−7', font: '18px "DejaVu Serif"', fill: '#000'}}
  ],
  series: [
    {
      name: 'TPD water vapour signal', type: 'scatter', data: scatterData,
      symbol: 'circle', symbolSize: 6, itemStyle: {color: '#0000ff', opacity: 1}, z: 2, clip: true
    },
    {
      name: 'Temkin isotherm model', type: 'line', data: temkinData,
      smooth: 0.3, symbol: 'none', lineStyle: {color: '#ff0000', width: 3.5}, itemStyle: {color: '#ff0000'}, z: 5
    }
  ]
};
chart.setOption(option);
</script>
</body>
</html>
